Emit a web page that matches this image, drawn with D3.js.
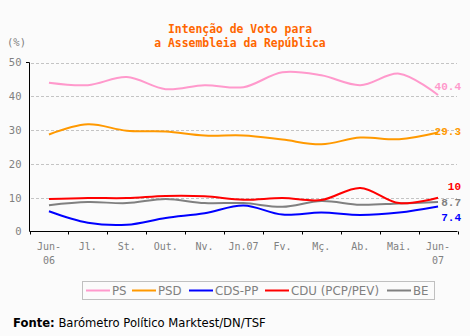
<!DOCTYPE html>
<html>
<head>
<meta charset="utf-8">
<script src="https://cdn.jsdelivr.net/npm/d3@7"></script>
<style>
  body { margin: 0; background: #fbfbfb; }
  svg { display: block; background: #fbfbfb; }
</style>
</head>
<body>
<script>
// months on the x axis (second line after the bar)
var months = ['Jun-|06', 'Jl.', 'St.', 'Out.', 'Nv.', 'Jn.07', 'Fv.', 'Mç.', 'Ab.', 'Mai.', 'Jun-|07'];

var ps   = [44.0, 43.3, 45.7, 42.1, 43.3, 42.7, 47.1, 46.2, 43.3, 46.7, 40.4];
var psd  = [28.7, 31.7, 29.8, 29.6, 28.4, 28.4, 27.2, 25.8, 27.8, 27.3, 29.3];
var cds  = [6.0, 2.6, 2.0, 4.0, 5.4, 7.7, 5.0, 5.6, 4.9, 5.6, 7.4];
var cdu  = [9.6, 9.9, 9.9, 10.5, 10.4, 9.4, 9.9, 9.3, 12.9, 8.4, 10];
var be   = [7.8, 8.7, 8.4, 9.6, 8.4, 8.4, 7.3, 9.0, 7.9, 8.3, 8.7];

var seriesNames = ['PS', 'PSD', 'CDS-PP', 'CDU (PCP/PEV)', 'BE'];
var seriesColors = ['#ff99cc', '#ff9900', '#0000ff', '#ff0000', '#808080'];
var seriesValues = [ps, psd, cds, cdu, be];
var yTicks = [0, 10, 20, 30, 40, 50];

var W = 470, H = 336;
var svg = d3.select('body').append('svg').attr('width', W).attr('height', H);

var x = d3.scaleBand().domain(months).range([29.5, 457.5]).padding(0);
var y = d3.scaleLinear().domain([0, 50]).range([231.5, 62.5]);
var cx = function(i) { return x(months[i]) + x.bandwidth() / 2; };

// title
svg.append('text').attr('x', 240).attr('y', 33)
  .attr('text-anchor', 'middle')
  .style('font', 'bold 11.4px "DejaVu Sans Mono"').style('fill', '#ff6600')
  .text('Intenção de Voto para');
svg.append('text').attr('x', 240).attr('y', 47)
  .attr('text-anchor', 'middle')
  .style('font', 'bold 11.4px "DejaVu Sans Mono"').style('fill', '#ff6600')
  .text('a Assembleia da República');

svg.append('text').attr('x', 7).attr('y', 46)
  .style('font', '10.5px "DejaVu Sans Mono"').style('fill', '#808080')
  .text('(%)');

// grid
svg.append('g').selectAll('line').data(yTicks.slice(1)).enter().append('line')
  .attr('x1', 31).attr('x2', 457)
  .attr('y1', function(d) { return Math.round(y(d)) + 0.5; })
  .attr('y2', function(d) { return Math.round(y(d)) + 0.5; })
  .style('stroke', '#c4c4c4').style('stroke-dasharray', '3,2');

// y axis
var yAxis = d3.axisLeft(y).tickValues(yTicks).tickSize(0).tickPadding(8);
var gy = svg.append('g').attr('transform', 'translate(29.5,0)').call(yAxis);
gy.select('.domain').remove();
gy.selectAll('text').style('font', '10.5px "DejaVu Sans Mono"').style('fill', '#808080');
svg.append('line').attr('x1', 29.5).attr('x2', 29.5).attr('y1', y(50)).attr('y2', y(0))
  .style('stroke', '#000');
svg.append('line').attr('x1', 26).attr('x2', 29.5).attr('y1', y(50)).attr('y2', y(50))
  .style('stroke', '#000');

// x axis
svg.append('line').attr('x1', 29.5).attr('x2', 457.5).attr('y1', y(0)).attr('y2', y(0))
  .style('stroke', '#000');
var bounds = months.map(function(m) { return x(m); }).concat([x.range()[1]]);
svg.append('g').selectAll('line').data(bounds).enter().append('line')
  .attr('x1', function(d) { return Math.round(d) + 0.5; })
  .attr('x2', function(d) { return Math.round(d) + 0.5; })
  .attr('y1', y(0)).attr('y2', y(0) + 3)
  .style('stroke', '#000');

var xl = svg.append('g').selectAll('text').data(months).enter().append('text')
  .attr('text-anchor', 'middle')
  .style('font', '10px "DejaVu Sans Mono"').style('fill', '#808080');
xl.each(function(d, i) {
  var parts = d.split('|');
  var t = d3.select(this);
  parts.forEach(function(p, j) {
    t.append('tspan').attr('x', cx(i)).attr('y', 250 + j * 14).text(p);
  });
});

// lines
var line = d3.line()
  .x(function(d, i) { return cx(i); })
  .y(function(d) { return y(d); })
  .curve(d3.curveCatmullRom.alpha(0.5));

var drawOrder = [0, 1, 4, 3, 2];
drawOrder.forEach(function(k) {
  svg.append('path').datum(seriesValues[k])
    .attr('d', line)
    .style('fill', 'none').style('stroke', seriesColors[k]).style('stroke-width', 2);
});

// end labels
var endLabels = [
  { k: 0, text: '40.4', yy: 90 },
  { k: 1, text: '29.3', yy: 135 },
  { k: 3, text: '10', yy: 190 },
  { k: 4, text: '8.7', yy: 206 },
  { k: 2, text: '7.4', yy: 221 }
];
svg.append('g').selectAll('text').data(endLabels).enter().append('text')
  .attr('x', 461).attr('y', function(d) { return d.yy; })
  .attr('text-anchor', 'end')
  .style('font', 'bold 11px "Liberation Mono"')
  .style('fill', function(d) { return seriesColors[d.k]; })
  .text(function(d) { return d.text; });

// legend
svg.append('rect').attr('x', 82.5).attr('y', 281.5).attr('width', 352).attr('height', 18)
  .style('fill', 'none').style('stroke', '#c0c0c0');
var legX = [86, 132, 189, 265, 387];
var leg = svg.append('g').selectAll('g').data(seriesNames).enter().append('g')
  .attr('transform', function(d, i) { return 'translate(' + legX[i] + ',290.5)'; });
leg.append('line').attr('x1', 0).attr('x2', 24)
  .style('stroke', function(d, i) { return seriesColors[i]; }).style('stroke-width', 2);
leg.append('text').attr('x', 26).attr('y', 4.5)
  .style('font', '11.8px "DejaVu Sans"').style('fill', '#808080')
  .text(function(d) { return d; });

// source
var src = svg.append('text').attr('x', 13).attr('y', 327)
  .style('font', '11.6px "DejaVu Sans"').style('fill', '#000');
src.append('tspan').style('font-weight', 'bold').text('Fonte:');
src.append('tspan').text(' Barómetro Político Marktest/DN/TSF');
</script>
</body>
</html>
